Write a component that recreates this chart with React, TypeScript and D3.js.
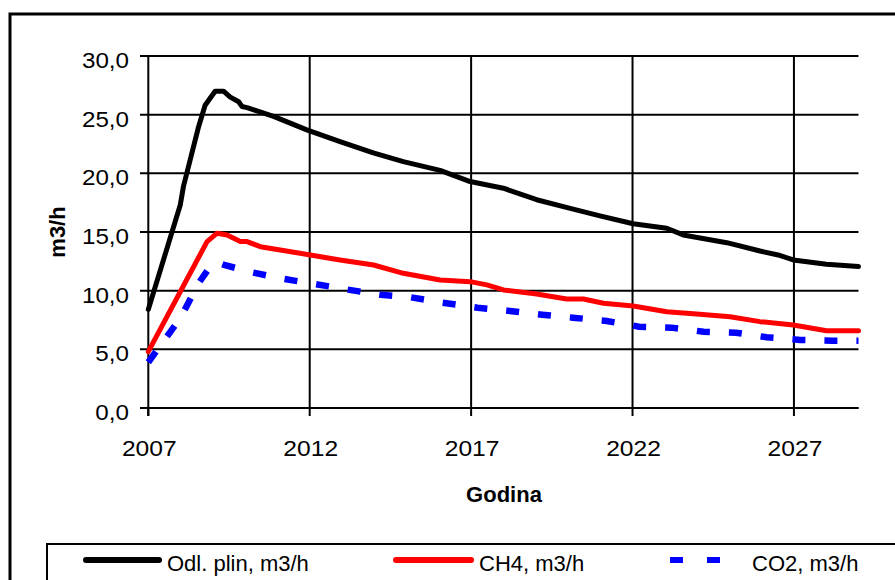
import React from "react";
import * as d3 from "d3";

const yTicks = [0, 5, 10, 15, 20, 25, 30];
const xTicks = [2007, 2012, 2017, 2022, 2027];

const blackYears = [2007.0, 2007.99, 2008.09, 2008.56, 2008.76, 2009.07, 2009.33, 2009.54, 2009.8, 2009.9, 2010.06, 2010.88, 2011.91, 2012.94, 2013.97, 2014.9, 2016.04, 2016.97, 2018.0, 2019.03, 2020.07, 2020.99, 2022.02, 2023.06, 2023.57, 2024.92, 2025.95, 2026.51, 2026.98, 2028.01, 2029.0];
const blackValues = [8.4, 17.3, 18.9, 24.0, 25.8, 27.0, 27.0, 26.5, 26.1, 25.7, 25.6, 24.85, 23.7, 22.7, 21.75, 21.0, 20.25, 19.3, 18.73, 17.75, 17.02, 16.37, 15.7, 15.32, 14.75, 14.09, 13.38, 13.04, 12.62, 12.25, 12.05];

const redYears = [2007.0, 2007.99, 2008.82, 2009.13, 2009.44, 2009.85, 2010.06, 2010.47, 2011.09, 2012.02, 2012.94, 2013.98, 2014.9, 2016.04, 2016.97, 2017.49, 2018.0, 2019.03, 2019.96, 2020.48, 2021.1, 2022.02, 2023.06, 2023.99, 2025.02, 2025.95, 2026.98, 2028.01, 2029.0];
const redValues = [4.8, 9.91, 14.18, 14.9, 14.75, 14.2, 14.18, 13.75, 13.47, 13.04, 12.62, 12.19, 11.48, 10.91, 10.77, 10.49, 10.06, 9.72, 9.29, 9.29, 8.93, 8.7, 8.21, 8.01, 7.78, 7.36, 7.08, 6.59, 6.59];

const blueYears = [2007.0, 2008.0, 2008.55, 2008.95, 2009.15, 2009.35, 2010.15, 2011.2, 2012.1, 2013.15, 2014.2, 2015.1, 2016.05, 2017.2, 2018.2, 2019.2, 2020.15, 2021.2, 2022.2, 2023.2, 2024.2, 2025.2, 2026.15, 2027.2, 2028.2, 2029.0];
const blueValues = [3.9, 7.7, 10.6, 12.2, 12.4, 12.2, 11.6, 11.0, 10.6, 10.1, 9.65, 9.45, 9.0, 8.55, 8.27, 7.95, 7.7, 7.42, 6.93, 6.85, 6.5, 6.42, 6.03, 5.8, 5.74, 5.74];

const seriesNames = ["Odl. plin, m3/h", "CH4, m3/h", "CO2, m3/h"];

const FONT = "'Liberation Sans', Arial, sans-serif";

export default function App() {
  const x = d3.scaleLinear().domain([2007, 2029]).range([148.3, 858.5]);
  const y = d3.scaleLinear().domain([0, 30]).range([408, 56]);
  const line = d3
    .line<[number, number]>()
    .x((d) => x(d[0]))
    .y((d) => y(d[1]));
  const zip = (a: number[], b: number[]) => a.map((v, i) => [v, b[i]] as [number, number]);

  const fmt = (v: number) => v.toFixed(1).replace(".", ",");

  return (
    <div style={{ position: "absolute", left: 0, top: 0 }}>
      <svg width={895} height={580} style={{ display: "block", background: "#fff" }}>
        <rect x={0} y={0} width={895} height={580} fill="#fff" />
        {/* outer chart border */}
        <rect x={10} y={14} width={900} height={600} fill="none" stroke="#000" strokeWidth={3} />

        {/* horizontal gridlines */}
        {yTicks.map((t) => (
          <g key={"h" + t}>
            <line x1={140} x2={858.5} y1={y(t)} y2={y(t)} stroke="#000" strokeWidth={2} />
            <text
              transform={`translate(129,${y(t) + 12}) scale(1.1,1)`}
              textAnchor="end"
              fontFamily={FONT}
              fontSize={22}
              fill="#000"
            >
              {fmt(t)}
            </text>
          </g>
        ))}
        {/* vertical gridlines */}
        {xTicks.map((t) => (
          <g key={"v" + t}>
            {t !== 2007 && (
              <line x1={x(t)} x2={x(t)} y1={56} y2={408} stroke="#000" strokeWidth={2} />
            )}
            <line x1={x(t)} x2={x(t)} y1={408} y2={416} stroke="#000" strokeWidth={2} />
            <text
              transform={`translate(${x(t) + 1},456) scale(1.12,1)`}
              textAnchor="middle"
              fontFamily={FONT}
              fontSize={22}
              fill="#000"
            >
              {t}
            </text>
          </g>
        ))}
        {/* axes */}
        <line x1={148.3} x2={148.3} y1={56} y2={416} stroke="#000" strokeWidth={2} />
        <line x1={140} x2={858.5} y1={408} y2={408} stroke="#000" strokeWidth={2} />

        {/* series */}
        <path d={line(zip(blueYears, blueValues)) || ""} fill="none" stroke="#0000ff" strokeWidth={6.5} strokeDasharray="13,19" />
        <path d={line(zip(redYears, redValues)) || ""} fill="none" stroke="#ff0000" strokeWidth={5} strokeLinejoin="round" strokeLinecap="round" />
        <path d={line(zip(blackYears, blackValues)) || ""} fill="none" stroke="#000" strokeWidth={5} strokeLinejoin="round" strokeLinecap="round" />

        {/* axis titles */}
        <text x={504} y={502} textAnchor="middle" fontFamily={FONT} fontSize={22} fontWeight="bold">
          Godina
        </text>
        <text
          transform="translate(65,232) rotate(-90)"
          textAnchor="middle"
          fontFamily={FONT}
          fontSize={22}
          fontWeight="bold"
        >
          m3/h
        </text>

        {/* legend */}
        <rect x={47} y={544} width={900} height={100} fill="#fff" stroke="#000" strokeWidth={2} />
        <line x1={86} x2={159} y1={560} y2={560} stroke="#000" strokeWidth={6} strokeLinecap="round" />
        <text x={167} y={571} fontFamily={FONT} fontSize={22}>{seriesNames[0]}</text>
        <line x1={396} x2={471} y1={560} y2={560} stroke="#ff0000" strokeWidth={6} strokeLinecap="round" />
        <text x={479} y={571} fontFamily={FONT} fontSize={22}>{seriesNames[1]}</text>
        <line x1={670} x2={744} y1={560} y2={560} stroke="#0000ff" strokeWidth={6} strokeDasharray="13,24" />
        <text x={752} y={571} fontFamily={FONT} fontSize={22}>{seriesNames[2]}</text>
      </svg>
    </div>
  );
}
